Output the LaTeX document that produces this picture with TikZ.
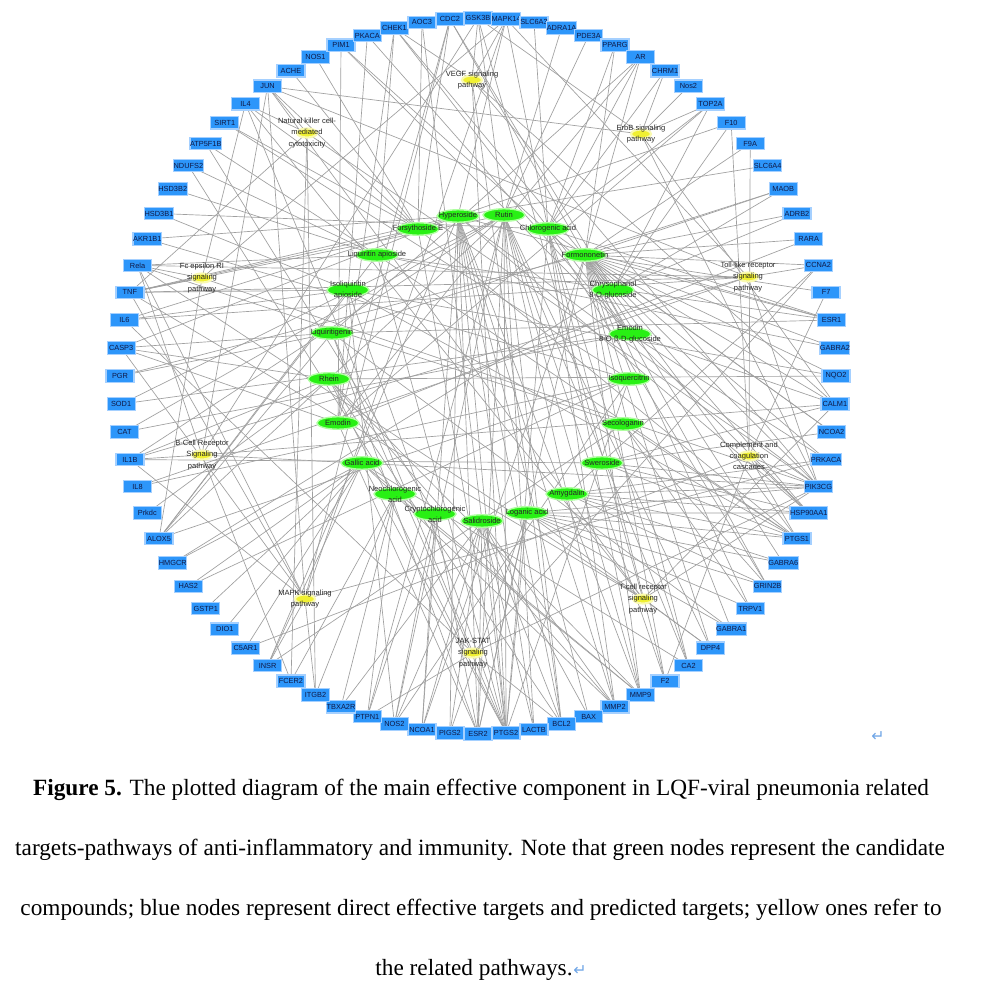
\documentclass[tikz,border=0pt]{standalone}
\usepackage{fontspec}
\setmainfont{Liberation Serif}
\newfontfamily\lab{Liberation Sans}
\newfontfamily\sym{DejaVu Sans}
\usetikzlibrary{shapes.geometric,backgrounds}
\definecolor{tblue}{RGB}{45,150,250}
\definecolor{tglow}{RGB}{165,208,255}
\definecolor{tdark}{RGB}{15,25,70}
\definecolor{cgreen}{RGB}{40,240,20}
\definecolor{cglow}{RGB}{175,255,160}
\definecolor{pyellow}{RGB}{240,240,50}
\definecolor{pglow}{RGB}{250,250,175}
\definecolor{edgec}{RGB}{160,160,160}
\definecolor{retc}{RGB}{110,165,230}
\begin{document}
\begin{tikzpicture}[x=0.02cm,y=-0.02cm,
 tgt/.style={rectangle,fill=tblue,draw=tglow,line width=0.7pt,minimum width=0.56cm,minimum height=0.25cm,inner sep=0pt,text=tdark,font=\lab\fontsize{4.2}{4.2}\selectfont},
 cmp/.style={ellipse,fill=cgreen,draw=cglow,line width=0.8pt,minimum width=0.84cm,minimum height=0.25cm,inner sep=0pt},
 pw/.style={ellipse,fill=pyellow,draw=pglow,line width=1.2pt,minimum width=0.4cm,minimum height=0.18cm,inner sep=0pt},
 lbl/.style={font=\lab\fontsize{4.3}{6.4}\selectfont,align=center,inner sep=0pt,text=black!85},
 conn/.style={draw=edgec,line width=0.38pt},
 captxt/.style={font=\fontsize{13.25}{15}\selectfont,inner sep=0pt,anchor=base},
 retmark/.style={font=\sym\fontsize{9}{9}\selectfont,text=retc,inner sep=0pt}
]
\useasboundingbox (0,0) rectangle (1000,999);
% targets on the circle
\foreach \n [count=\i from 0] in {GSK3B,MAPK14,SLC6A3,ADRA1A,PDE3A,PPARG,AR,CHRM1,Nos2,TOP2A,F10,F9A,SLC6A4,MAOB,ADRB2,RARA,CCNA2,F7,ESR1,GABRA2,NQO2,CALM1,NCOA2,PRKACA,PIK3CG,HSP90AA1,PTGS1,GABRA6,GRIN2B,TRPV1,GABRA1,DPP4,CA2,F2,MMP9,MMP2,BAX,BCL2,LACTB,PTGS2,ESR2,PIGS2,NCOA1,NOS2,PTPN1,TBXA2R,ITGB2,FCER2,INSR,C5AR1,DIO1,GSTP1,HAS2,HMGCR,ALOX5,Prkdc,IL8,IL1B,CAT,SOD1,PGR,CASP3,IL6,TNF,Rela,AKR1B1,HSD3B1,HSD3B2,NDUFS2,ATP5F1B,SIRT1,IL4,JUN,ACHE,NOS1,PIM1,PKACA,CHEK1,AOC3,CDC2}
  \node[tgt] (\n) at ({478+358*cos(90-4.5*\i)},{376-358*sin(90-4.5*\i)}) {\n};
% compounds
\node[cmp,label={[lbl]center:Hyperoside}] (hyp) at (458,216) {};
\node[cmp,label={[lbl]center:Rutin}] (rut) at (504,215) {};
\node[cmp,label={[lbl]center:Forsythoside E}] (fors) at (418,229) {};
\node[cmp,label={[lbl]center:Chlorogenic acid}] (chl) at (548,229) {};
\node[cmp,label={[lbl]center:Liquiritin apioside}] (liqa) at (377,255) {};
\node[cmp,label={[lbl]center:Formononetin}] (form) at (585,255) {};
\node[cmp,label={[lbl]center:{Isoliquiritin\\apioside}}] (isoliq) at (348,290) {};
\node[cmp,label={[lbl]center:{Chrysophanol\\8-O-glucoside}}] (chry) at (613,290) {};
\node[cmp,label={[lbl]center:Liquiritigenin}] (liqg) at (332,333) {};
\node[cmp,label={[lbl]center:{Emodin\\8-O-β-D-glucoside}}] (emg) at (630,334) {};
\node[cmp,label={[lbl]center:Rhein}] (rhein) at (329,379) {};
\node[cmp,label={[lbl]center:Isoquercitrin}] (isoq) at (629,379) {};
\node[cmp,label={[lbl]center:Emodin}] (emod) at (338,423) {};
\node[cmp,label={[lbl]center:Secologanin}] (seco) at (623,424) {};
\node[cmp,label={[lbl]center:Gallic acid}] (gall) at (362,463) {};
\node[cmp,label={[lbl]center:Sweroside}] (swer) at (602,463) {};
\node[cmp,label={[lbl]center:{Neochlorogenic\\acid}}] (neo) at (395,494) {};
\node[cmp,label={[lbl]center:Amygdalin}] (amyg) at (567,494) {};
\node[cmp,label={[lbl]center:{Cryptochlorogenic\\acid}}] (crypt) at (435,514) {};
\node[cmp,label={[lbl]center:Salidroside}] (sal) at (482,521) {};
\node[cmp,label={[lbl]center:Loganic acid}] (log) at (527,513) {};
% pathways
\node[pw,label={[lbl]center:{VEGF signaling\\pathway}}] (vegf) at (472,80) {};
\node[pw,label={[lbl]center:{ErbB signaling\\pathway}}] (erbb) at (641,134) {};
\node[pw,label={[lbl]center:{Natural killer cell-\\mediated\\cytotoxicity}}] (nk) at (307,133) {};
\node[pw,label={[lbl]center:{Fc epsilon RI\\signaling\\pathway}}] (fc) at (202,278) {};
\node[pw,label={[lbl]center:{Toll-like receptor\\signaling\\pathway}}] (toll) at (748,277) {};
\node[pw,label={[lbl]center:{Complement and\\coagulation\\cascades}}] (comp) at (749,456) {};
\node[pw,label={[lbl]center:{B-Cell Receptor\\Signaling\\pathway}}] (bcell) at (202,455) {};
\node[pw,label={[lbl]center:{MAPK signaling\\pathway}}] (mapk) at (305,599) {};
\node[pw,label={[lbl]center:{T-cell receptor\\signaling\\pathway}}] (tcell) at (643,599) {};
\node[pw,label={[lbl]center:{JAK-STAT\\signaling\\pathway}}] (jak) at (473,653) {};
% connectors
\begin{pgfonlayer}{background}
\fill[white] (0,0) rectangle (1000,999);
\foreach \c/\ts in {
 hyp/{MAPK14,PTGS2,ESR2,BCL2,BAX,MMP9,MMP2,CASP3,TNF,IL6,AKR1B1,PIK3CG,HSP90AA1,ESR1,F10,SLC6A4,PIGS2,NCOA1,LACTB,INSR},
 rut/{GSK3B,PTGS2,ESR2,LACTB,MMP9,IL1B,SOD1,CAT,ALOX5,ADRA1A,PDE3A,CA2,F2,NOS2,TNF,PTPN1,BCL2,MMP2,DPP4},
 fors/{JUN,TNF,PTGS1,PTGS2,NOS1,AOC3,ACHE,IL4,SIRT1,CDC2},
 chl/{MAPK14,PPARG,AR,CHRM1,TOP2A,MMP9,PTGS2,GRIN2B,SLC6A3,HSD3B1,NCOA2,ESR1,CA2,F2,MMP2},
 form/{AR,PPARG,ESR1,ESR2,PGR,NCOA2,NCOA1,CALM1,PRKACA,PIK3CG,HSP90AA1,PTGS1,GABRA6,GRIN2B,TRPV1,GABRA1,DPP4,CA2,F2,MAOB,ADRB2,RARA,CCNA2,F7,GABRA2,NQO2,F9A,MMP9},
 liqa/{PTGS2,PTGS1,ESR1,HSD3B2,NDUFS2,ATP5F1B,Rela,ALOX5,GABRA2,CHEK1},
 isoliq/{PTGS2,PTGS1,TNF,IL6,ALOX5,NOS2,NQO2,HSD3B1},
 chry/{TOP2A,F10,MAOB,ADRB2,CHEK1,PIM1,CDC2,HMGCR},
 liqg/{ESR1,ESR2,PGR,AR,ALOX5,PTGS2,MAOB,GABRA1,CASP3},
 emg/{PKACA,CHEK1,CDC2,PIM1,PRKACA,CALM1,HSP90AA1,SOD1,CAT},
 rhein/{MMP9,MMP2,CASP3,PTGS2,IL1B,BCL2,Prkdc,NQO2},
 isoq/{ALOX5,PTGS2,AKR1B1,NOS2,HAS2,SIRT1,IL8},
 emod/{CHEK1,CDC2,PIM1,PKACA,ESR2,TOP2A,CASP3,AR,RARA},
 seco/{PTGS1,TRPV1,GRIN2B,INSR,Rela},
 gall/{PTGS2,MMP9,MMP2,HAS2,HMGCR,GSTP1,DIO1,INSR,C5AR1,CA2},
 swer/{PIK3CG,PTGS1,HSP90AA1,NCOA2,CALM1,IL1B},
 neo/{ITGB2,TBXA2R,FCER2,PTPN1,MMP9,NDUFS2},
 amyg/{PIK3CG,PTGS1,HSP90AA1,GABRA6,GRIN2B,PRKACA,CCNA2},
 crypt/{NOS2,NCOA1,PTPN1,ESR2,ATP5F1B},
 sal/{PIGS2,ESR2,PTGS2,LACTB,BCL2,NCOA1,NOS2,TBXA2R,MMP2,BAX,AOC3},
 log/{PTGS1,HSP90AA1,PIK3CG,GRIN2B,GABRA1,DPP4,TRPV1,ESR2,PTGS2,GABRA6,PIGS2},
 vegf/{MAPK14,GSK3B,PTGS2,PIK3CG,CALM1,BCL2,CHEK1},
 erbb/{JUN,GSK3B,PIK3CG,CALM1,TOP2A,Nos2,CHRM1},
 nk/{TNF,IL4,PIK3CG,ITGB2,FCER2,JUN},
 fc/{TNF,IL4,MAPK14,PIK3CG,ALOX5,Rela},
 toll/{TNF,IL6,IL1B,IL8,JUN,MAPK14,PIK3CG,Rela,CCNA2},
 comp/{F2,F7,F10,C5AR1,F9A,PIK3CG,HSP90AA1,PTGS1},
 bcell/{JUN,Rela,PIK3CG,GSK3B,CALM1,FCER2,IL1B},
 mapk/{JUN,MAPK14,TNF,IL1B,CASP3,Rela,ITGB2,INSR,PRKACA,CDC2},
 tcell/{JUN,Rela,PIK3CG,GSK3B,IL4,TNF,CALM1,DPP4},
 jak/{IL6,IL4,BCL2,PIK3CG,PTPN1,CCNA2}}
 {\foreach \t in \ts {\draw[conn] (\c.center) -- (\t.center);}}
\end{pgfonlayer}
% return marks and caption
\node[retmark] (ret1) at (878,737) {↵};
\node[captxt] (cap1) at (481,795) {\textbf{Figure 5.} The plotted diagram of the main effective component in LQF-viral pneumonia related};
\node[captxt] (cap2) at (480,855) {targets-pathways of anti-inflammatory and immunity. Note that green nodes represent the candidate};
\node[captxt] (cap3) at (481,915) {compounds; blue nodes represent direct effective targets and predicted targets; yellow ones refer to};
\node[captxt] (cap4) at (474,975) {the related pathways.};
\node[retmark,anchor=base west] (ret2) at (cap4.base east) {↵};
\end{tikzpicture}
\end{document}
